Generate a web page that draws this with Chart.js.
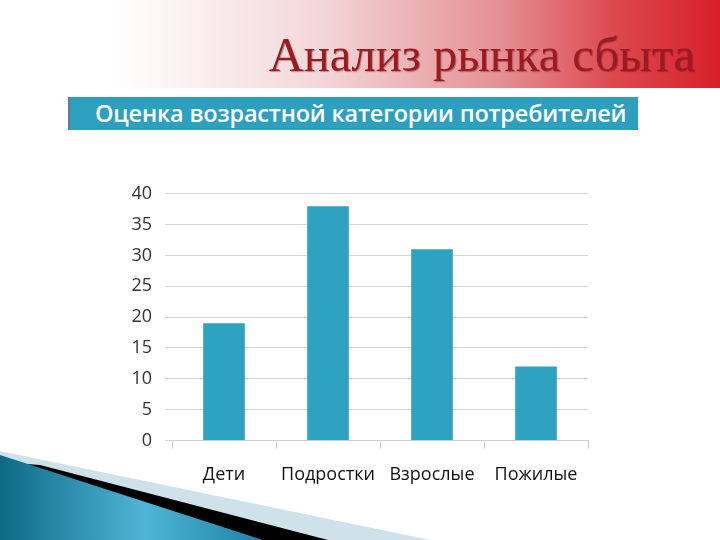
<!DOCTYPE html>
<html>
<head>
<meta charset="utf-8">
<script src="https://cdn.jsdelivr.net/npm/chart.js@4.4.1/dist/chart.umd.min.js"></script>
<style>
  html, body { margin: 0; padding: 0; }
  body { width: 720px; height: 540px; position: relative; overflow: hidden; background: #fff; font-family: 'Open Sans', sans-serif; }
  #header {
    position: absolute; left: 0; top: 0; width: 720px; height: 88px;
    background: linear-gradient(to right, #fff 0%, #fff 16%, #f3d6d7 45%, #e48e92 70%, #dc4a50 85%, #d71f29 100%);
  }
  #title {
    position: absolute; right: 25px; top: 28px;
    font-family: 'Liberation Serif', 'DejaVu Serif', serif; font-size: 48.5px; line-height: 54px;
    color: #9c1a22; text-shadow: 1px 1px 1px rgba(90,0,0,0.35);
  }
  #subtitle {
    position: absolute; left: 68px; top: 97px; width: 570px; height: 33px;
    background: #2d9fbf; border-left: 2px solid #6a7d86; box-sizing: border-box;
    color: #fff; font-size: 23.5px; font-weight: 600; line-height: 33px; padding-left: 25px;
    white-space: nowrap; letter-spacing: -0.2px;
  }
  .deco { position: absolute; left: 0; top: 0; width: 720px; height: 540px; }
  #wrap { position: absolute; left: 122px; top: 170px; width: 486px; height: 332px; }
</style>
</head>
<body>
<div id="header"></div>
<div id="title">Анализ рынка сбыта</div>
<div id="subtitle">Оценка возрастной категории потребителей</div>
<svg class="deco" viewBox="0 0 720 540">
  <defs>
    <linearGradient id="teal" x1="0" y1="0" x2="1" y2="0">
      <stop offset="0" stop-color="#0d6a86"/>
      <stop offset="0.55" stop-color="#4fb5d6"/>
      <stop offset="1" stop-color="#1c84a6"/>
    </linearGradient>
  </defs>
  <polygon points="0,451 430,540 0,540" fill="#cfe2ea"/>
  <polygon points="40,465 328,540 0,540 0,462" fill="#000"/>
  <polygon points="0,455 263,540 0,540" fill="url(#teal)"/>
</svg>
<div id="wrap"><canvas id="chart"></canvas></div>
<script>
// Age-category survey — bar chart

const CATEGORIES = ['Дети', 'Подростки', 'Взрослые', 'Пожилые'];
const VALUES = [19, 38, 31, 12];
const Y_MAX = 40;
const Y_STEP = 5;

const BAR_COLOR = '#2ea2c1';
const GRID_COLOR = '#d4d4d4';

new Chart(document.getElementById('chart'), {
  type: 'bar',
  data: {
    labels: CATEGORIES,
    datasets: [{
      data: VALUES,
      backgroundColor: BAR_COLOR,
      borderWidth: 0,
      barPercentage: 0.4,
      categoryPercentage: 1,
    }],
  },
  options: {
    responsive: true,
    maintainAspectRatio: false,
    animation: false,
    layout: { padding: { top: 2, right: 20, left: 0, bottom: 0 } },
    plugins: { legend: { display: false }, tooltip: { enabled: false } },
    scales: {
      x: {
        offset: true,
        grid: { display: true, drawOnChartArea: false, drawTicks: true, tickLength: 8, color: '#c8c8c8', offset: true },
        border: { display: true, color: '#d0d0d0' },
        ticks: { color: '#111', font: { family: 'Open Sans', size: 18 }, padding: 16 },
      },
      y: {
        min: 0,
        max: Y_MAX,
        // gridlines poke out a few px left of the plot, like the original
        afterFit: (axis) => { axis.width = 50; },
        ticks: { stepSize: Y_STEP, color: '#333', font: { family: 'Open Sans', size: 18 }, padding: 13 },
        grid: { color: GRID_COLOR, drawTicks: true, tickLength: 7 },
        border: { display: false },
      },
    },
  },
});
</script>
</body>
</html>
